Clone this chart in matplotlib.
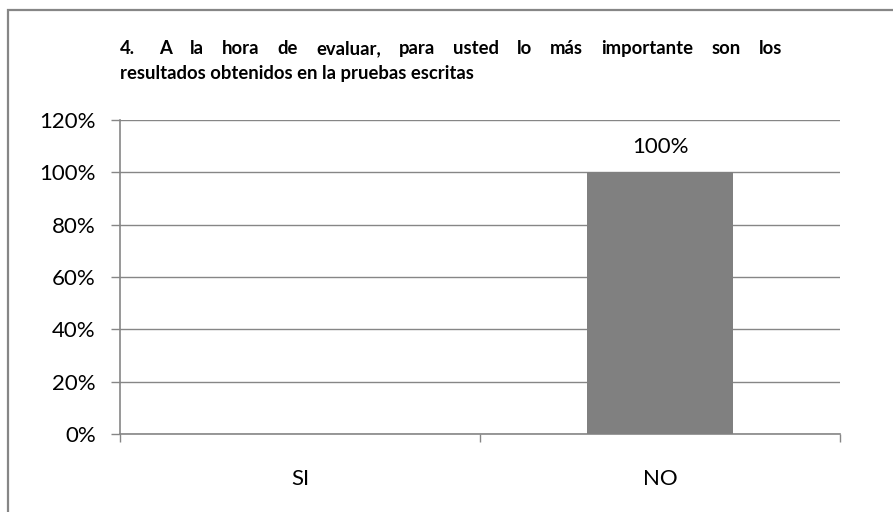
import matplotlib
matplotlib.use("Agg")
import matplotlib.pyplot as plt
from matplotlib.patches import Rectangle
from matplotlib.ticker import FuncFormatter

# datos
categorias = ["SI", "NO"]
porcentajes = [0.0, 1.0]
etiquetas_barras = ["", "100%"]
ticks_y = [0.0, 0.2, 0.4, 0.6, 0.8, 1.0, 1.2]
titulo_l1 = "4.  A la hora de evaluar, para usted lo más importante son los"
titulo_l2 = "resultados obtenidos en la pruebas escritas"

plt.rcParams['font.family'] = ['Lato', 'DejaVu Sans']
gris = '#868686'
fs = 16

W, H = 893, 512
fig = plt.figure(figsize=(W / 100, H / 100), dpi=100)
fig.patch.set_facecolor('white')

# marco exterior (recortado a la derecha y abajo como en el original)
marco = Rectangle((8 / W, -0.1), 1.0, 1 - 10 / H + 0.1, transform=fig.transFigure,
                  fill=False, edgecolor=gris, linewidth=1.6, clip_on=False)
fig.patches.append(marco)

ax = fig.add_axes([120 / W, 1 - 434 / H, 720 / W, 314 / H])
x = list(range(len(categorias)))
barras = ax.bar(x, porcentajes, width=0.405, color='#808080', zorder=3)

for b, txt in zip(barras, etiquetas_barras):
    if txt:
        ax.annotate(txt, (b.get_x() + b.get_width() / 2, b.get_height()),
                    xytext=(0, 11), textcoords='offset points',
                    ha='center', va='bottom', fontsize=fs)

ax.set_xlim(-0.5, len(categorias) - 0.5)
ax.set_ylim(0, 1.2)
ax.set_yticks(ticks_y)
ax.yaxis.set_major_formatter(FuncFormatter(lambda v, p: f"{v * 100:.0f}%"))
ax.yaxis.grid(True, color=gris, linewidth=1)
ax.set_axisbelow(True)

ax.set_xticks([i - 0.5 for i in range(len(categorias) + 1)])
ax.set_xticklabels([])
ax.set_xticks(x, minor=True)
ax.set_xticklabels(categorias, minor=True)
ax.tick_params(axis='x', which='major', direction='out', length=6, color=gris, width=1)
ax.tick_params(axis='x', which='minor', length=0, pad=25, labelsize=fs)
ax.tick_params(axis='y', direction='out', length=6.5, color=gris, width=1, pad=11, labelsize=fs)

for s in ['top', 'right']:
    ax.spines[s].set_visible(False)
for s in ['left', 'bottom']:
    ax.spines[s].set_color(gris)
    ax.spines[s].set_linewidth(1.2)

# titulo: primera linea justificada entre x=120 y x=782
fig.canvas.draw()
r = fig.canvas.get_renderer()
palabras = titulo_l1.split()
y1 = 1 - 54 / H
y2 = 1 - 79 / H
x0, x1 = 120, 782
extra_num = 6  # hueco mas ancho tras "4."
objs = []
ancho = 0
for p in palabras:
    t = fig.text(0, y1, p, fontsize=13.3, fontweight='bold', va='baseline', ha='left')
    w = t.get_window_extent(r).width
    objs.append((t, w))
    ancho += w
hueco = (x1 - x0 - ancho - extra_num) / (len(palabras) - 1)
pos = x0
for i, (t, w) in enumerate(objs):
    t.set_x(pos / W)
    pos += w + hueco + (extra_num if i == 0 else 0)
fig.text(x0 / W, y2, titulo_l2, fontsize=13.3, fontweight='bold', va='baseline', ha='left')

fig.savefig("out.png", dpi=100)
